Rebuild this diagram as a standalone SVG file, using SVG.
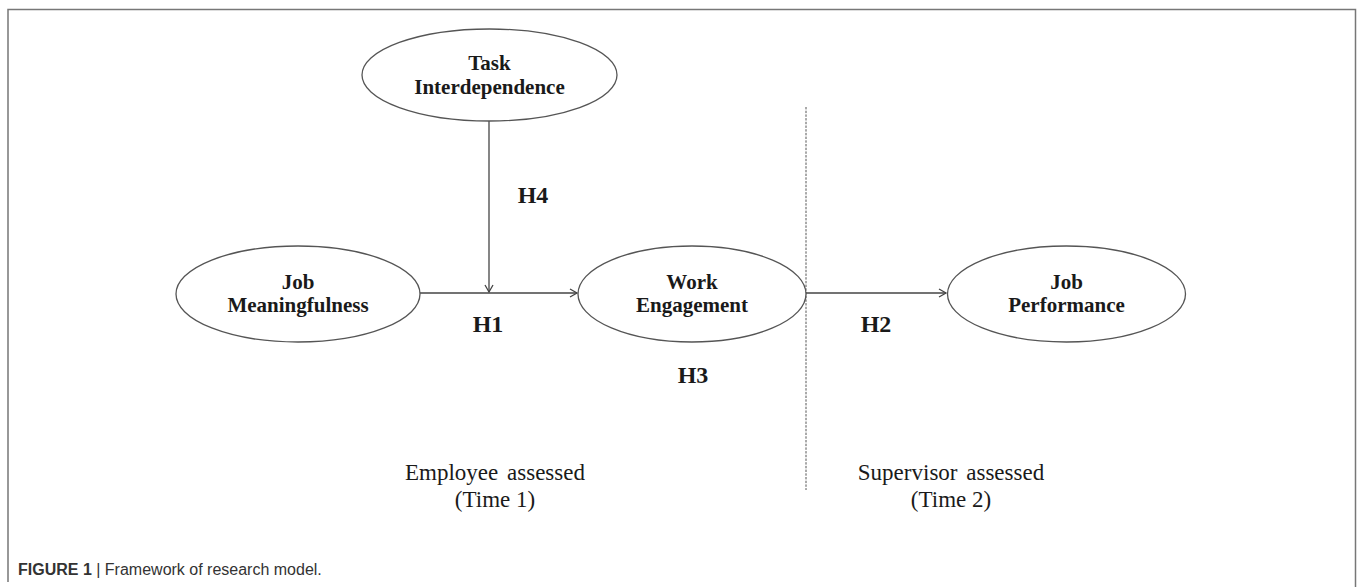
<svg xmlns="http://www.w3.org/2000/svg" width="1357" height="587" viewBox="0 0 1357 587">
  <style>
    .node ellipse { fill: #ffffff; stroke: #555555; stroke-width: 1.3; }
    .lbl { font-family: "Liberation Serif", "Times New Roman", serif; font-weight: bold; font-size: 21px; fill: #1a1a1a; text-anchor: middle; }
    .h { font-family: "Liberation Serif", "Times New Roman", serif; font-weight: bold; font-size: 24px; fill: #1a1a1a; text-anchor: middle; }
    .note { font-family: "Liberation Serif", "Times New Roman", serif; font-size: 23px; fill: #1a1a1a; text-anchor: middle; }
    .wide { word-spacing: 3px; }
    .conn { stroke: #444444; stroke-width: 1.3; fill: none; }
    .frame { stroke: #777777; stroke-width: 1.5; fill: none; }
    .cap { font-family: "Liberation Sans", Arial, sans-serif; font-size: 16px; fill: #333333; }
  </style>
  <defs>
    <marker id="arr" markerWidth="12" markerHeight="12" refX="9" refY="6" orient="auto" markerUnits="userSpaceOnUse">
      <path d="M2,2 L9,6 L2,10" fill="none" stroke="#444444" stroke-width="1.3"/>
    </marker>
  </defs>
  <rect width="1357" height="587" fill="#ffffff"/>
  <g id="frame">
    <path class="frame" d="M8,582 L8,9.5 L1355.5,9.5 L1355.5,587"/>
  </g>
  <g id="connectors">
    <line class="conn" x1="489" y1="121" x2="489" y2="292" marker-end="url(#arr)"/>
    <line class="conn" x1="420" y1="293" x2="577" y2="293" marker-end="url(#arr)"/>
    <line class="conn" x1="806" y1="293" x2="946" y2="293" marker-end="url(#arr)"/>
    <line x1="806" y1="107" x2="806" y2="490" stroke="#555555" stroke-width="1" stroke-dasharray="2.4 1.3"/>
  </g>
  <g id="task-interdependence" class="node">
    <ellipse cx="489.5" cy="75" rx="127.5" ry="46"/>
    <text class="lbl" x="489.5" y="70">Task</text>
    <text class="lbl" x="489.5" y="94">Interdependence</text>
  </g>
  <g id="job-meaningfulness" class="node">
    <ellipse cx="298" cy="294" rx="122" ry="48"/>
    <text class="lbl" x="298" y="289">Job</text>
    <text class="lbl" x="298" y="312">Meaningfulness</text>
  </g>
  <g id="work-engagement" class="node">
    <ellipse cx="692" cy="294" rx="114" ry="48"/>
    <text class="lbl" x="692" y="289">Work</text>
    <text class="lbl" x="692" y="312">Engagement</text>
  </g>
  <g id="job-performance" class="node">
    <ellipse cx="1066.5" cy="294" rx="119" ry="48"/>
    <text class="lbl" x="1066.5" y="289">Job</text>
    <text class="lbl" x="1066.5" y="312">Performance</text>
  </g>
  <g id="hypotheses">
    <text class="h" x="533" y="203">H4</text>
    <text class="h" x="488" y="332">H1</text>
    <text class="h" x="876" y="332">H2</text>
    <text class="h" x="693" y="383">H3</text>
  </g>
  <g id="phase-labels">
    <text class="note wide" x="495" y="480">Employee assessed</text>
    <text class="note" x="495" y="507">(Time 1)</text>
    <text class="note wide" x="951" y="480">Supervisor assessed</text>
    <text class="note" x="951" y="507">(Time 2)</text>
  </g>
  <g id="caption">
    <text class="cap" x="18" y="575"><tspan font-weight="bold">FIGURE 1</tspan> | Framework of research model.</text>
  </g>
</svg>
